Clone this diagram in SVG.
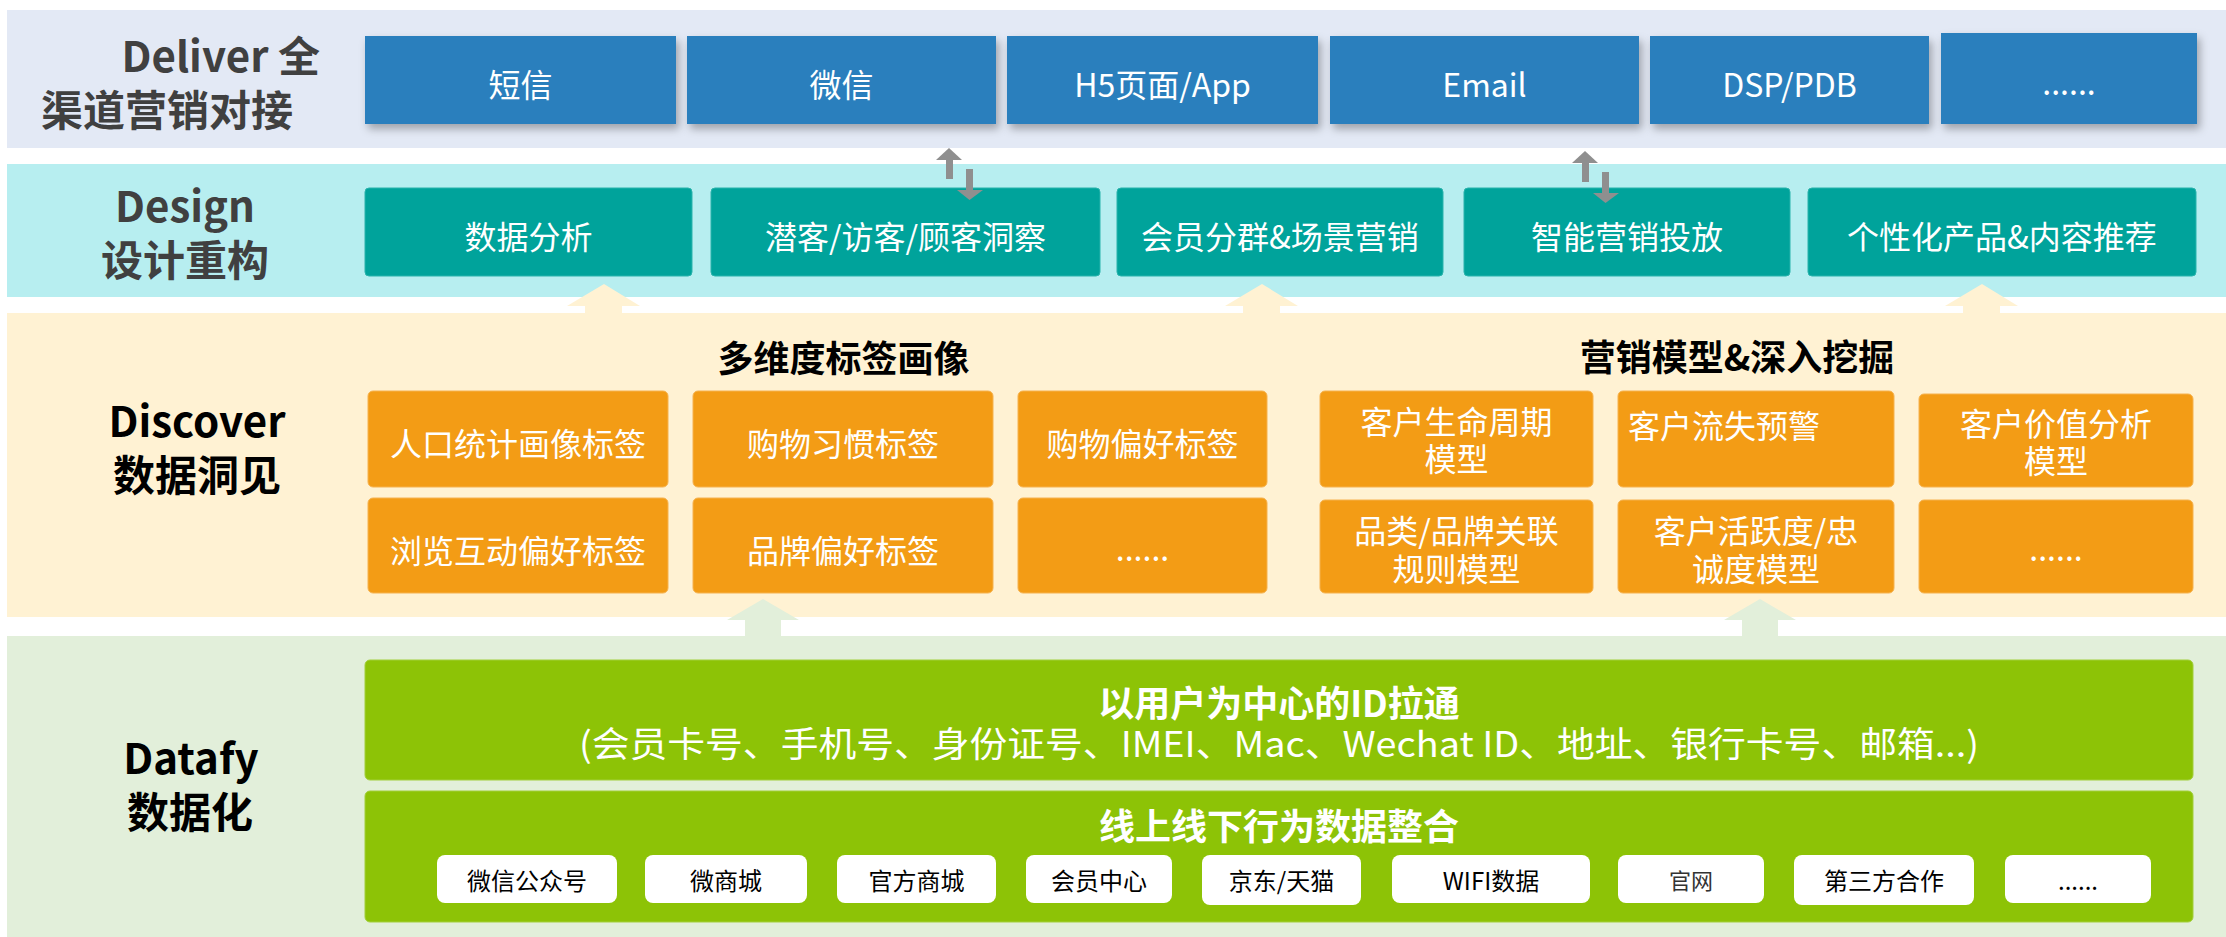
<svg xmlns="http://www.w3.org/2000/svg" width="2226" height="937" viewBox="0 0 2226 937">
<style>
text{font-family:"Noto Sans CJK SC","Noto Sans",sans-serif}
.lbl{font-size:42px;font-weight:700;text-anchor:middle}
.lg{fill:#404040}
.lk{fill:#000}
.blue{fill:#2A7FBD;filter:url(#sh)}
.teal{fill:#00A39B;stroke:#29B3AC;stroke-width:1}
.org{fill:#F39C15;stroke:#F6B24E;stroke-width:1}
.grn{fill:#8DC306;stroke:#A2CF3A;stroke-width:1}
.pill{fill:#FFFFFF}
.wt{fill:#FFFFFF;font-size:32px;text-anchor:middle}
.sub{fill:#000;font-size:36px;font-weight:700;text-anchor:middle}
.pt{fill:#000;font-size:24px;text-anchor:middle}
.gh{fill:#FFFFFF;font-size:36px;font-weight:700}
.garr{fill:#8F8F8F}
.yarr{fill:#FFF2D3}
.larr{fill:#E2EFDA}
</style>
<defs>
<filter id="sh" x="-10%" y="-20%" width="125%" height="150%">
<feDropShadow dx="3" dy="5" stdDeviation="4" flood-color="#000" flood-opacity="0.3"/>
</filter>
<g id="gray-up"><rect x="946" y="159" width="7" height="20"/><polygon points="936,160 962,160 949,148"/></g>
<g id="gray-down"><rect x="966" y="169" width="7" height="22"/><polygon points="957,190 983,190 969.5,200"/></g>
<polygon id="yup" points="604,284 640,306 622,306 622,314 585,314 585,306 567,306"/>
<polygon id="gup" points="763,599 799,620 781,620 781,637 745,637 745,620 727,620"/>
</defs>

<!-- bands -->
<g id="bands">
<rect x="7" y="10" width="2219" height="138" fill="#E3E9F5"/>
<rect x="7" y="164" width="2219" height="133" fill="#B7EEF0"/>
<rect x="7" y="313" width="2219" height="304" fill="#FFF2D3"/>
<rect x="7" y="636" width="2219" height="301" fill="#E2EFDA"/>
</g>

<!-- layer labels -->
<g id="label-deliver">
<text class="lbl lg" x="320" y="72" style="text-anchor:end">Deliver 全</text>
<text class="lbl lg" x="41" y="126" style="text-anchor:start">渠道营销对接</text>
</g>
<g id="label-design">
<text class="lbl lg" x="185" y="222">Design</text>
<text class="lbl lg" x="185" y="276">设计重构</text>
</g>
<g id="label-discover">
<text class="lbl lk" x="197" y="437">Discover</text>
<text class="lbl lk" x="197" y="491">数据洞见</text>
</g>
<g id="label-datafy">
<text class="lbl lk" x="191" y="774">Datafy</text>
<text class="lbl lk" x="190" y="828">数据化</text>
</g>

<!-- Deliver channels -->
<g id="d-sms"><rect class="blue" x="365" y="36" width="311" height="88"/><text class="wt" x="520.5" y="97">短信</text></g>
<g id="d-wechat"><rect class="blue" x="687" y="36" width="309" height="88"/><text class="wt" x="841.5" y="97">微信</text></g>
<g id="d-h5"><rect class="blue" x="1007" y="36" width="311" height="88"/><text class="wt" x="1162.5" y="97">H5页面/App</text></g>
<g id="d-email"><rect class="blue" x="1330" y="36" width="309" height="88"/><text class="wt" x="1484.5" y="97">Email</text></g>
<g id="d-dsp"><rect class="blue" x="1650" y="36" width="279" height="88"/><text class="wt" x="1789.5" y="97">DSP/PDB</text></g>
<g id="d-more"><rect class="blue" x="1941" y="33" width="256" height="91"/><text class="wt" x="2069" y="95">......</text></g>

<!-- Design -->
<g id="s-analysis"><rect class="teal" x="365" y="188" width="327" height="88" rx="4"/><text class="wt" x="528.5" y="249">数据分析</text></g>
<g id="s-insight"><rect class="teal" x="711" y="188" width="389" height="88" rx="4"/><text class="wt" x="905.5" y="249">潜客/访客/顾客洞察</text></g>
<g id="s-segment"><rect class="teal" x="1117" y="188" width="326" height="88" rx="4"/><text class="wt" x="1280" y="249">会员分群&amp;场景营销</text></g>
<g id="s-smart"><rect class="teal" x="1464" y="188" width="326" height="88" rx="4"/><text class="wt" x="1627" y="249">智能营销投放</text></g>
<g id="s-recommend"><rect class="teal" x="1808" y="188" width="388" height="88" rx="4"/><text class="wt" x="2002" y="249">个性化产品&amp;内容推荐</text></g>

<!-- Discover headings -->
<g id="h-tags"><text class="sub" x="843.5" y="372">多维度标签画像</text></g>
<g id="h-models"><text class="sub" x="1737" y="371">营销模型&amp;深入挖掘</text></g>

<!-- tag boxes -->
<g id="t-demo"><rect class="org" x="368" y="391" width="300" height="96" rx="5"/><text class="wt" x="518" y="456">人口统计画像标签</text></g>
<g id="t-habit"><rect class="org" x="693" y="391" width="300" height="96" rx="5"/><text class="wt" x="843" y="456">购物习惯标签</text></g>
<g id="t-pref"><rect class="org" x="1018" y="391" width="249" height="96" rx="5"/><text class="wt" x="1142.5" y="456">购物偏好标签</text></g>
<g id="t-browse"><rect class="org" x="368" y="498" width="300" height="95" rx="5"/><text class="wt" x="518" y="563">浏览互动偏好标签</text></g>
<g id="t-brand"><rect class="org" x="693" y="498" width="300" height="95" rx="5"/><text class="wt" x="843" y="563">品牌偏好标签</text></g>
<g id="t-more"><rect class="org" x="1018" y="498" width="249" height="95" rx="5"/><text class="wt" x="1142.5" y="561">......</text></g>

<!-- model boxes -->
<g id="m-life"><rect class="org" x="1320" y="391" width="273" height="96" rx="5"/><text class="wt"><tspan x="1456.5" y="434">客户生命周期</tspan><tspan x="1456.5" y="471">模型</tspan></text></g>
<g id="m-churn"><rect class="org" x="1618" y="391" width="276" height="96" rx="5"/><text class="wt" x="1628" y="438" style="text-anchor:start">客户流失预警</text></g>
<g id="m-value"><rect class="org" x="1919" y="394" width="274" height="93" rx="5"/><text class="wt"><tspan x="2056" y="436">客户价值分析</tspan><tspan x="2056" y="473">模型</tspan></text></g>
<g id="m-assoc"><rect class="org" x="1320" y="500" width="273" height="93" rx="5"/><text class="wt"><tspan x="1456.5" y="543">品类/品牌关联</tspan><tspan x="1456.5" y="581">规则模型</tspan></text></g>
<g id="m-active"><rect class="org" x="1618" y="500" width="276" height="93" rx="5"/><text class="wt"><tspan x="1756" y="543">客户活跃度/忠</tspan><tspan x="1756" y="581">诚度模型</tspan></text></g>
<g id="m-more"><rect class="org" x="1919" y="500" width="274" height="93" rx="5"/><text class="wt" x="2056" y="561">......</text></g>

<!-- Datafy -->
<g id="id-link"><rect class="grn" x="365" y="660" width="1828" height="120" rx="5"/>
<text class="wt" style="font-size:35px"><tspan class="gh" x="1279" y="717">以用户为中心的ID拉通</tspan><tspan x="1279" y="757" textLength="1400" lengthAdjust="spacingAndGlyphs">(会员卡号、手机号、身份证号、IMEI、Mac、Wechat ID、地址、银行卡号、邮箱...)</tspan></text>
</g>
<g id="integration"><rect class="grn" x="365" y="791" width="1828" height="131" rx="5"/>
<text class="wt gh" x="1279" y="840">线上线下行为数据整合</text>
</g>
<g id="p-gzh"><rect class="pill" x="437" y="855" width="180" height="48" rx="8"/><text class="pt" x="527" y="890">微信公众号</text></g>
<g id="p-wsc"><rect class="pill" x="645" y="855" width="162" height="48" rx="8"/><text class="pt" x="726" y="890">微商城</text></g>
<g id="p-gfsc"><rect class="pill" x="837" y="855" width="159" height="48" rx="8"/><text class="pt" x="916.5" y="890">官方商城</text></g>
<g id="p-hyzx"><rect class="pill" x="1026" y="855" width="146" height="48" rx="8"/><text class="pt" x="1099" y="890">会员中心</text></g>
<g id="p-jd"><rect class="pill" x="1202" y="855" width="159" height="50" rx="8"/><text class="pt" x="1281.5" y="890">京东/天猫</text></g>
<g id="p-wifi"><rect class="pill" x="1392" y="855" width="198" height="48" rx="8"/><text class="pt" x="1491" y="890">WIFI数据</text></g>
<g id="p-gw"><rect class="pill" x="1618" y="855" width="146" height="48" rx="8"/><text class="pt" x="1691" y="889" style="font-size:22px;fill:#333">官网</text></g>
<g id="p-dsf"><rect class="pill" x="1794" y="855" width="180" height="50" rx="8"/><text class="pt" x="1884" y="890">第三方合作</text></g>
<g id="p-more"><rect class="pill" x="2005" y="855" width="146" height="48" rx="8"/><text class="pt" x="2078" y="890">......</text></g>

<!-- connectors -->
<g id="connectors">
<g class="garr"><use href="#gray-up"/><use href="#gray-down"/></g>
<g class="garr" transform="translate(636,3)"><use href="#gray-up"/><use href="#gray-down"/></g>
<g class="yarr"><use href="#yup"/><use href="#yup" transform="translate(658,0)"/><use href="#yup" transform="translate(1378,0)"/></g>
<g class="larr"><use href="#gup"/><use href="#gup" transform="translate(997,0)"/></g>
</g>
</svg>
